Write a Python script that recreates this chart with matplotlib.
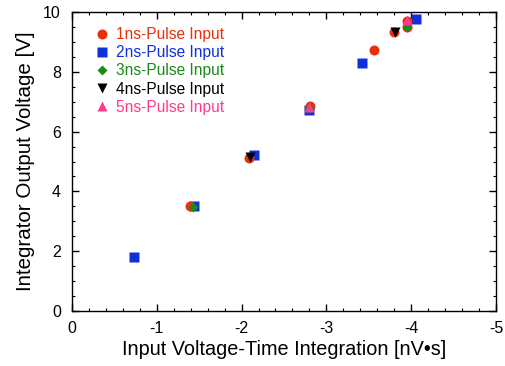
import matplotlib
matplotlib.use("Agg")
import matplotlib.pyplot as plt

plt.rcParams["font.family"] = ["Liberation Sans", "DejaVu Sans"]
plt.rcParams["axes.unicode_minus"] = False

# Data (x in nV*s, y in V)
x_1ns = [-1.39, -2.09, -2.81, -3.565, -3.80, -3.955, -3.955]
y_1ns = [3.50, 5.12, 6.86, 8.73, 9.32, 9.70, 9.51]
x_2ns = [-0.735, -1.44, -2.15, -2.79, -3.42, -4.06]
y_2ns = [1.80, 3.50, 5.21, 6.72, 8.29, 9.77]
x_3ns = [-1.43, -2.80, -3.955]
y_3ns = [3.49, 6.78, 9.51]
x_4ns = [-2.10, -3.805]
y_4ns = [5.16, 9.32]
x_5ns = [-2.80, -3.955]
y_5ns = [6.83, 9.72]

labels = ["1ns-Pulse Input", "2ns-Pulse Input", "3ns-Pulse Input",
          "4ns-Pulse Input", "5ns-Pulse Input"]
colors = ["#e8300a", "#1030dc", "#1a8a1a", "#000000", "#ff3c8c"]

fig = plt.figure(figsize=(5.05, 3.66), dpi=100)
ax = fig.add_axes([0.1426, 0.1503, 0.8394, 0.8167])

ax.plot(x_1ns, y_1ns, "o", ms=7.2, color=colors[0], mec="none", label=labels[0], zorder=3)
ax.plot(x_2ns, y_2ns, "s", ms=7.0, color=colors[1], mec="none", label=labels[1], zorder=2)
ax.plot(x_3ns, y_3ns, "D", ms=4.8, color=colors[2], mec="none", label=labels[2], zorder=4)
ax.plot(x_4ns, y_4ns, "v", ms=6.5, color=colors[3], mec="none", label=labels[3], zorder=5)
ax.plot(x_5ns, y_5ns, "^", ms=6.5, color=colors[4], mec="none", label=labels[4], zorder=6)

ax.set_xlim(0, -5)
ax.set_ylim(0, 10)
ax.set_xticks([0, -1, -2, -3, -4, -5])
ax.set_xticks([-0.2 * i for i in range(26)], minor=True)
ax.set_yticks([0, 2, 4, 6, 8, 10])
ax.set_yticks([0.5 * i for i in range(21)], minor=True)
ax.tick_params(which="both", direction="in", top=True, right=True, labelsize=11.5)
ax.tick_params(which="major", length=5, width=1)
ax.tick_params(which="minor", length=2.5, width=0.8)
ax.tick_params(axis="x", pad=7)
ax.tick_params(axis="y", pad=8)
for s in ax.spines.values():
    s.set_linewidth(1)

ax.set_xlabel("Input Voltage-Time Integration [nV\u2022s]", fontsize=14.3, labelpad=3)
ax.set_ylabel("Integrator Output Voltage [V]", fontsize=14.8, labelpad=6)

leg = ax.legend(loc="upper left", frameon=False, fontsize=11.2, handletextpad=0.3,
                labelspacing=0.2, handlelength=1.2, borderaxespad=0.0,
                bbox_to_anchor=(0.035, 0.97))
for txt, c in zip(leg.get_texts(), colors):
    txt.set_color(c)

fig.savefig("out.png", dpi=100)
